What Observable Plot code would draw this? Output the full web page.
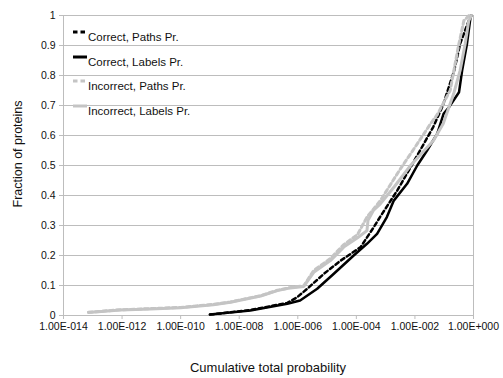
<!DOCTYPE html>
<html>
<head>
<meta charset="utf-8">
<script src="https://cdn.jsdelivr.net/npm/d3@7"></script>
<script src="https://cdn.jsdelivr.net/npm/@observablehq/plot@0.6"></script>
<style>
  body { margin: 0; background: #fff; }
  #chart { width: 503px; height: 378px; }
  #chart svg text { font-family: "Liberation Sans", Arial, sans-serif; }
</style>
</head>
<body>
<div id="chart"></div>
<script>
// Series names, in legend order
const seriesNames = ["Correct, Paths Pr.", "Correct, Labels Pr.", "Incorrect, Paths Pr.", "Incorrect, Labels Pr."];

// Correct, Paths Pr. — cumulative probability vs fraction of proteins
const correctPathsProb = [1.0e-9, 2.4e-8, 4.4e-7, 9.5e-7, 2.1e-6, 7.8e-6, 2.9e-5, 1.4e-4, 3.9e-4, 6.6e-4, 2.5e-3, 7.1e-3, 2.0e-2, 4.2e-2, 9.0e-2, 0.22, 0.35, 0.69, 0.85];
const correctPathsFrac = [0.003, 0.018, 0.042, 0.061, 0.089, 0.139, 0.183, 0.228, 0.294, 0.33, 0.417, 0.494, 0.572, 0.628, 0.70, 0.817, 0.906, 0.983, 1.0];

// Correct, Labels Pr.
const correctLabelsProb = [1.0e-9, 2.4e-8, 4.4e-7, 1.2e-6, 4.6e-6, 1.7e-5, 8.1e-5, 2.3e-4, 5.1e-4, 1.1e-3, 1.9e-3, 5.4e-3, 1.2e-2, 2.6e-2, 5.8e-2, 9.5e-2, 0.145, 0.32, 0.41, 0.60, 0.79, 0.85];
const correctLabelsFrac = [0.003, 0.017, 0.039, 0.05, 0.089, 0.139, 0.2, 0.239, 0.272, 0.328, 0.383, 0.439, 0.5, 0.55, 0.606, 0.672, 0.694, 0.744, 0.817, 0.906, 0.994, 1.0];

// Incorrect, Paths Pr.
const incorrectPathsProb = [7.1e-14, 8.9e-13, 9.3e-12, 1.0e-10, 1.3e-9, 5.0e-9, 1.9e-8, 5.4e-8, 2.0e-7, 5.6e-7, 1.6e-6, 3.5e-6, 1.3e-5, 3.6e-5, 1.1e-4, 2.3e-4, 6.6e-4, 3.2e-3, 1.2e-2, 3.4e-2, 5.8e-2, 0.16, 0.30, 0.47, 0.70];
const incorrectPathsFrac = [0.011, 0.019, 0.023, 0.027, 0.037, 0.045, 0.057, 0.066, 0.084, 0.093, 0.099, 0.15, 0.19, 0.235, 0.27, 0.328, 0.383, 0.489, 0.572, 0.639, 0.67, 0.75, 0.894, 0.983, 1.0];

// Incorrect, Labels Pr.
const incorrectLabelsProb = [7.1e-14, 8.9e-13, 9.3e-12, 1.0e-10, 1.3e-9, 5.0e-9, 1.9e-8, 5.4e-8, 2.0e-7, 5.6e-7, 1.6e-6, 3.5e-6, 1.3e-5, 3.7e-5, 1.1e-4, 2.3e-4, 2.5e-4, 3.8e-4, 6.6e-4, 2.0e-3, 7.1e-3, 4.3e-2, 9.3e-2, 0.11, 0.21, 0.35, 0.52, 0.69, 0.85];
const incorrectLabelsFrac = [0.01, 0.018, 0.022, 0.026, 0.036, 0.044, 0.056, 0.065, 0.083, 0.092, 0.097, 0.144, 0.183, 0.228, 0.259, 0.283, 0.317, 0.35, 0.372, 0.43, 0.5, 0.583, 0.64, 0.661, 0.739, 0.817, 0.906, 0.983, 1.0];

// Axis ticks
const xTicks = [1e-14, 1e-12, 1e-10, 1e-8, 1e-6, 1e-4, 1e-2, 1];
const yTicks = [0, 0.1, 0.2, 0.3, 0.4, 0.5, 0.6, 0.7, 0.8, 0.9, 1];

// Per-series styling
const seriesStyle = [
  {stroke: "#000000", dash: "4,3", width: 2.5},
  {stroke: "#000000", dash: null, width: 2.5},
  {stroke: "#c4c4c4", dash: "4,3", width: 3},
  {stroke: "#c4c4c4", dash: null, width: 3}
];

const seriesData = [
  [correctPathsProb, correctPathsFrac],
  [correctLabelsProb, correctLabelsFrac],
  [incorrectPathsProb, incorrectPathsFrac],
  [incorrectLabelsProb, incorrectLabelsFrac]
].map(([p, f], i) => p.map((v, j) => ({series: seriesNames[i], prob: v, frac: f[j]})));

// Excel-style scientific labels: 1.00E-014
const sciFormat = d => {
  const e = Math.round(Math.log10(d));
  return "1.00E" + (e < 0 ? "-" : "+") + String(Math.abs(e)).padStart(3, "0");
};
const yFormat = d => String(+d.toFixed(1));

const gridColor = "#bdbdbd";

// One line mark per series; the grey (incorrect) series are drawn last, on top
const lineMarks = seriesData.map((rows, i) =>
  Plot.line(rows, {
    x: "prob", y: "frac",
    stroke: seriesStyle[i].stroke,
    strokeWidth: seriesStyle[i].width,
    strokeDasharray: seriesStyle[i].dash ?? undefined,
    strokeLinejoin: "round"
  })
);

const chart = Plot.plot({
  width: 503,
  height: 378,
  marginLeft: 63,
  marginRight: 30,
  marginTop: 15,
  marginBottom: 63,
  style: {fontFamily: "Liberation Sans, Arial, sans-serif", fontSize: "10.5px", background: "#ffffff", color: "#000"},
  x: {type: "log", domain: [1e-14, 1]},
  y: {domain: [0, 1]},
  marks: [
    Plot.ruleY(yTicks, {stroke: gridColor, strokeWidth: 1}),
    Plot.ruleX([1], {stroke: gridColor, strokeWidth: 1}),
    Plot.ruleX([1e-14], {stroke: gridColor, strokeWidth: 1}),
    Plot.axisX({ticks: xTicks, tickFormat: sciFormat, tickSize: 4, tickPadding: 3, stroke: gridColor, fill: "#111", label: null}),
    Plot.axisY({ticks: yTicks, tickFormat: yFormat, tickSize: 4, tickPadding: 4, stroke: gridColor, fill: "#111", label: null}),
    ...lineMarks
  ]
});

const svg = d3.select(chart);

// Axis titles
svg.append("text")
  .attr("transform", "translate(18,154) rotate(-90)")
  .attr("text-anchor", "middle")
  .attr("dominant-baseline", "central")
  .attr("font-size", "12.5px")
  .attr("fill", "#111")
  .text("Fraction of proteins");

svg.append("text")
  .attr("x", 268)
  .attr("y", 372)
  .attr("text-anchor", "middle")
  .attr("font-size", "13px")
  .attr("fill", "#111")
  .text("Cumulative total probability");

// Legend inside the plot area, top-left
const legend = svg.append("g").attr("class", "legend").attr("text-anchor", "start");
const legendRows = [32, 57, 81, 106];
seriesNames.forEach((name, i) => {
  const y = legendRows[i];
  legend.append("line")
    .attr("x1", 73).attr("x2", 87)
    .attr("y1", y).attr("y2", y)
    .attr("stroke", seriesStyle[i].stroke)
    .attr("stroke-width", 3)
    .attr("stroke-dasharray", seriesStyle[i].dash ? "4.5,3" : null);
  legend.append("text")
    .attr("x", 88)
    .attr("y", y + 9)
    .attr("text-anchor", "start")
    .attr("font-size", "11.5px")
    .attr("fill", "#111")
    .text(name);
});

document.getElementById("chart").append(chart);
</script>
</body>
</html>
